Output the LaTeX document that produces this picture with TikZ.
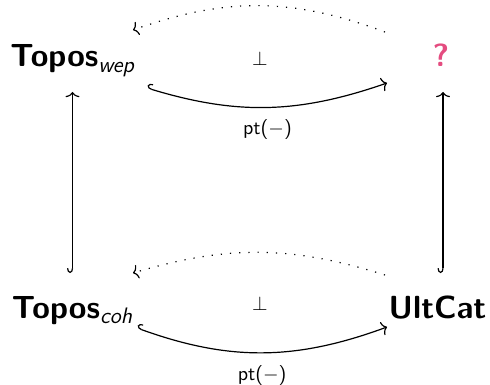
\documentclass[tikz,border=0pt]{standalone}
\usepackage{amsmath}
\usetikzlibrary{arrows.meta, calc}
\definecolor{qpink}{RGB}{228,76,128}

\begin{document}
\begin{tikzpicture}[x=0.5pt, y=0.5pt]
		\tikzstyle{obj}=[inner sep=0pt, anchor=base, font=\fontsize{16}{19}\selectfont\sffamily\bfseries]
		\tikzstyle{lbl}=[inner sep=0pt, font=\sffamily]
		\tikzstyle{incl}=[{Hooks[right, length=2.4pt, width=5.5pt]}-{To[length=2.6pt, width=7pt]}, line width=0.6pt]
		\tikzstyle{adj}=[-{To[length=2.6pt, width=7pt]}, line width=0.6pt, dash pattern=on 0.6pt off 4pt]

		\useasboundingbox (0,0) rectangle (490,-384);

		\node[obj] (wep) at (72.5,-67) {Topos$_{\text{\sffamily\mdseries\itshape wep}}$};
		\node[obj, text=qpink] (q) at (441,-67) {?};
		\node[obj] (coh) at (72.5,-318) {Topos$_{\text{\sffamily\mdseries\itshape coh}}$};
		\node[obj] (ult) at (437.5,-318) {UltCat};

		\node[lbl] (perpA) at (260,-59) {$\perp$};
		\node[lbl] (perpB) at (260,-304) {$\perp$};

		% top row
		\draw[incl] ($(wep.base)+(74.5,-21)$) to[bend right=18]
			node[lbl, below=6pt] (ptA) {pt($-$)} ($(q.base)+(-54,-16)$);
		\draw[adj] ($(q.base)+(-56,35)$) to[bend right=20] ($(wep.base)+(60.5,37)$);

		% bottom row
		\draw[incl] ($(coh.base)+(64.5,-10)$) to[bend right=20]
			node[lbl, below=6pt] (ptB) {pt($-$)} ($(ult.base)+(-50.5,-9)$);
		\draw[adj] ($(ult.base)+(-52.5,43)$) to[bend right=17] ($(coh.base)+(60.5,45)$);

		% inclusions
		\draw[incl] ($(coh.base)+(0,45)$) -- ($(wep.base)+(0,-25)$);
		\draw[incl] ($(ult.base -| q.base)+(2,45)$) -- ($(q.base)+(2,-25)$);

	\end{tikzpicture}
\end{document}
